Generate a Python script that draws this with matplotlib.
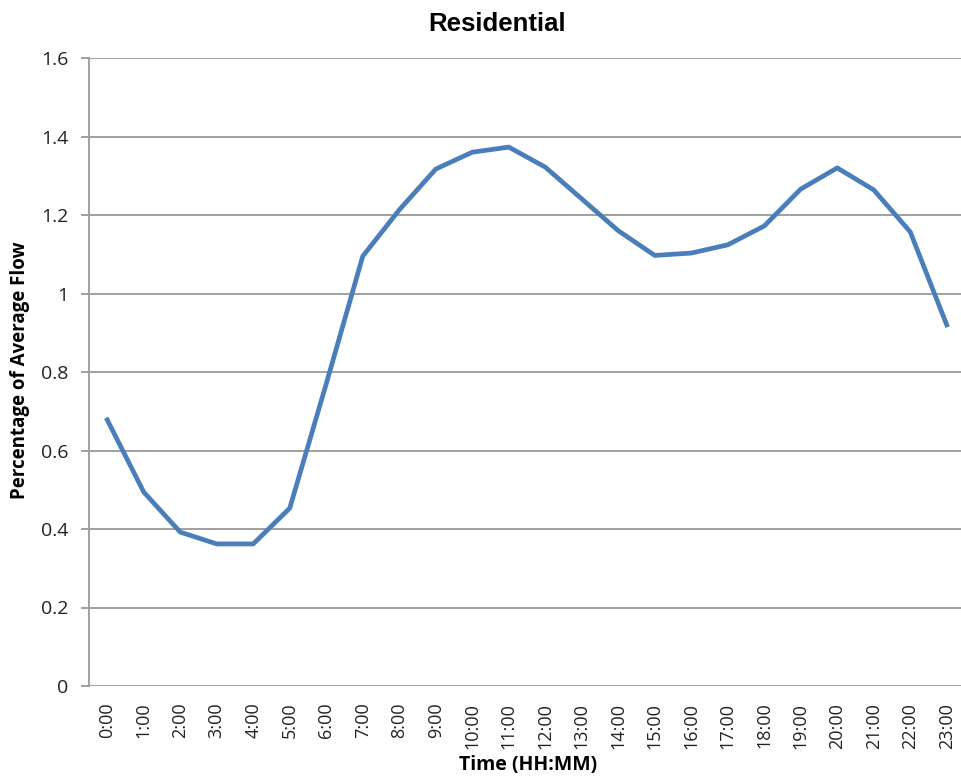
import matplotlib.pyplot as plt

# hourly flow profile, residential
hours = [f"{h}:00" for h in range(24)]
flow = [0.678, 0.494, 0.392, 0.362, 0.362, 0.453, 0.77, 1.095,
        1.213, 1.317, 1.360, 1.373, 1.322, 1.241, 1.160, 1.097,
        1.103, 1.124, 1.172, 1.266, 1.320, 1.264, 1.157, 0.920]
y_ticks = [0, 0.2, 0.4, 0.6, 0.8, 1, 1.2, 1.4, 1.6]
y_tick_labels = ["0", "0.2", "0.4", "0.6", "0.8", "1", "1.2", "1.4", "1.6"]

W, H = 961, 779
fig = plt.figure(figsize=(W / 100, H / 100), dpi=100)
ax = fig.add_axes([89 / W, 1 - 686 / H, (965 - 89) / W, (686 - 58) / H])

x = list(range(len(hours)))
ax.plot(x, flow, color="#4a7ebb", linewidth=3.4, solid_joinstyle="round")

ax.set_xlim(-0.5, 23.5)
ax.set_ylim(0, 1.6)
ax.set_yticks(y_ticks)
ax.set_yticklabels(y_tick_labels, family="Open Sans", fontsize=14, color="#222222")
ax.set_xticks(x)
ax.set_xticklabels(hours, rotation=90, family="Open Sans", fontsize=13, color="#222222")

ax.grid(axis="y", color="#a0a0a0", linewidth=1.4)
ax.set_axisbelow(True)
for side in ("top", "right", "bottom"):
    ax.spines[side].set_visible(False)
ax.spines["left"].set_color("#a0a0a0")
ax.spines["left"].set_linewidth(1.4)
ax.tick_params(axis="y", length=6, width=1.4, color="#a0a0a0", pad=9)
ax.tick_params(axis="x", length=0, pad=12)

ax.set_ylabel("Percentage of Average Flow", family="Open Sans", fontweight="bold",
              fontsize=13.5)
ax.yaxis.set_label_coords((20 - 89) / (965 - 89), (686 - 370) / (686 - 58))
ax.set_xlabel("Time (HH:MM)", family="Open Sans", fontweight="bold", fontsize=14)
ax.xaxis.set_label_coords((528 - 89) / (965 - 89), -(765 - 686) / (686 - 58))
ax.xaxis.label.set_va("center")
ax.yaxis.label.set_va("center")

fig.text(497 / W, 1 - 24 / H, "Residential", family="Liberation Sans",
         fontweight="bold", fontsize=18.5, ha="center", va="center")

fig.savefig("out.png", dpi=100)
